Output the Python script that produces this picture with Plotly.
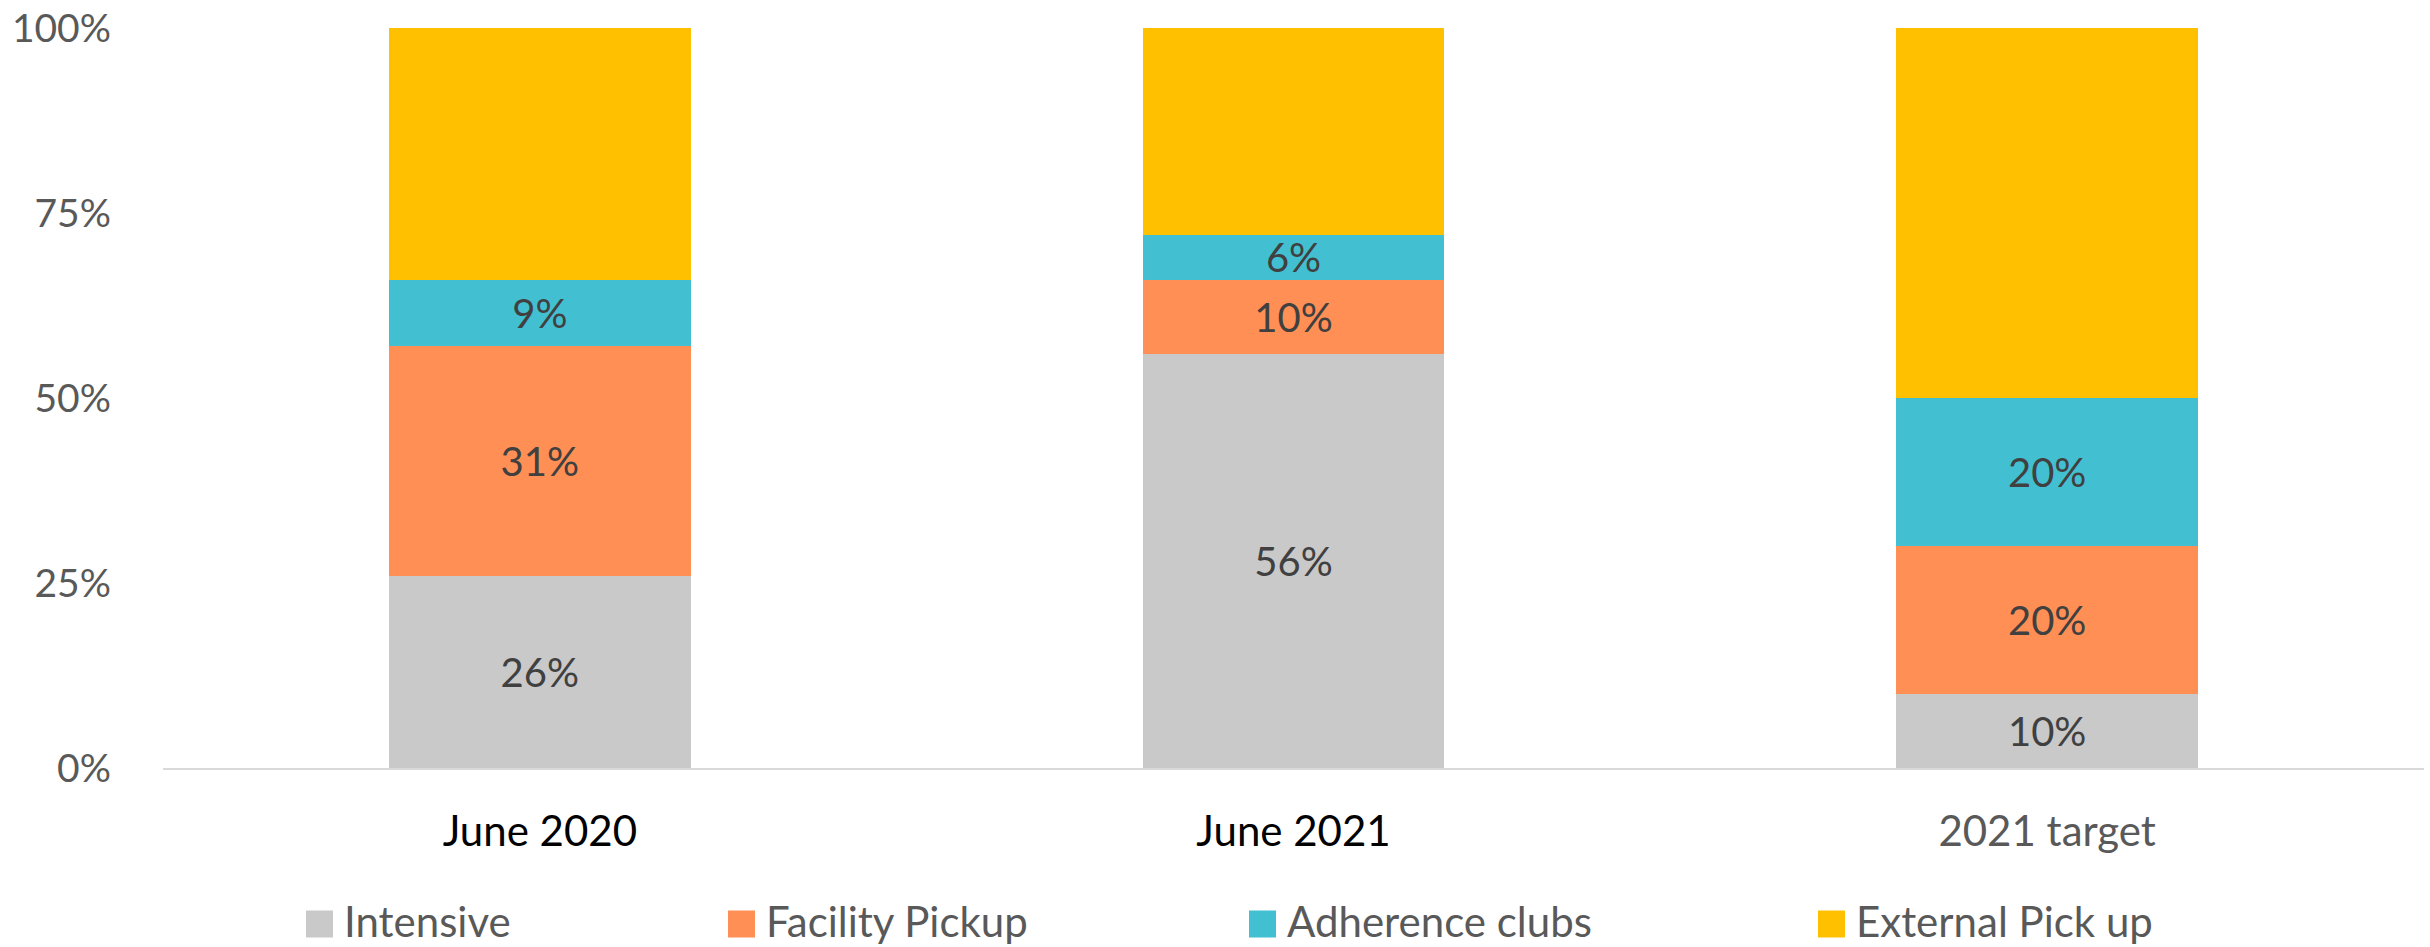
import plotly.graph_objects as go

# ---- data ----
categories = ["June 2020", "June 2021", "2021 target"]
series_names = ["Intensive", "Facility Pickup", "Adherence clubs", "External Pick up"]
intensive = [0.26, 0.56, 0.10]
facility_pickup = [0.31, 0.10, 0.20]
adherence_clubs = [0.09, 0.06, 0.20]
external_pickup = [0.34, 0.28, 0.50]
y_tick_values = [0, 0.25, 0.5, 0.75, 1.0]

# ---- styles ----
series_colors = ["#C9C9C9", "#FF8F54", "#42C0D1", "#FFC000"]
show_labels = [True, True, True, False]
cat_label_colors = ["#000000", "#000000", "#595959"]
FONT = "Lato, 'Open Sans', sans-serif"

W, H = 2430, 947
ML, MR, MT, MB = 163, 6, 28, 179
PW, PH = W - ML - MR, H - MT - MB

fig = go.Figure()
all_values = [intensive, facility_pickup, adherence_clubs, external_pickup]
for name, vals, col, lab in zip(series_names, all_values, series_colors, show_labels):
    fig.add_trace(go.Bar(
        x=categories, y=vals, name=name,
        marker=dict(color=col, line=dict(width=0)),
        text=[f"{v:.0%}" for v in vals] if lab else None,
        textposition="inside" if lab else "none",
        insidetextanchor="middle",
        textangle=0,
        constraintext="none",
        textfont=dict(family=FONT, size=40, color="#404040"),
        showlegend=False,
        hoverinfo="skip",
    ))

# custom legend (squares + labels) below the axis
def px_to_paper_x(px):
    return (px - ML) / PW

def px_to_paper_y(py):
    return (H - MB - py) / PH

legend_marker_x = [306, 728, 1249, 1818]
legend_size = 27
legend_cy = 921
for name, col, mx in zip(series_names, series_colors, legend_marker_x):
    fig.add_shape(type="rect", xref="paper", yref="paper",
                  x0=px_to_paper_x(mx), x1=px_to_paper_x(mx + legend_size),
                  y0=px_to_paper_y(legend_cy + legend_size / 2 + 3),
                  y1=px_to_paper_y(legend_cy - legend_size / 2 + 3),
                  fillcolor=col, line=dict(width=0))
    fig.add_annotation(xref="paper", yref="paper",
                       x=px_to_paper_x(mx + legend_size + 10), y=px_to_paper_y(legend_cy),
                       xanchor="left", yanchor="middle", showarrow=False,
                       text=name, font=dict(family=FONT, size=42, color="#595959"),
                       borderpad=0)

ticktext = [f"<span style='color:{c}'>{t}</span>" for t, c in zip(categories, cat_label_colors)]

fig.update_layout(
    barmode="stack",
    bargap=0.6,
    width=W, height=H,
    margin=dict(l=ML, r=MR, t=MT, b=MB, autoexpand=False),
    paper_bgcolor="white", plot_bgcolor="white",
    uniformtext=dict(minsize=40, mode="show"),
    xaxis=dict(
        tickmode="array", tickvals=categories, ticktext=ticktext,
        tickfont=dict(family=FONT, size=42, color="#000000"),
        showline=True, linecolor="#D9D9D9", linewidth=2,
        showgrid=False, ticks="", ticklabelstandoff=26,
    ),
    yaxis=dict(
        range=[0, 1], tickvals=y_tick_values, tickformat=".0%",
        tickfont=dict(family=FONT, size=39, color="#595959"),
        showgrid=False, zeroline=False, showline=False, ticks="",
        ticklabelstandoff=51,
    ),
)

fig.write_html(
    "out.html",
    config={"displayModeBar": False},
    post_script="document.body.style.margin='0';document.body.style.overflow='hidden';",
)
